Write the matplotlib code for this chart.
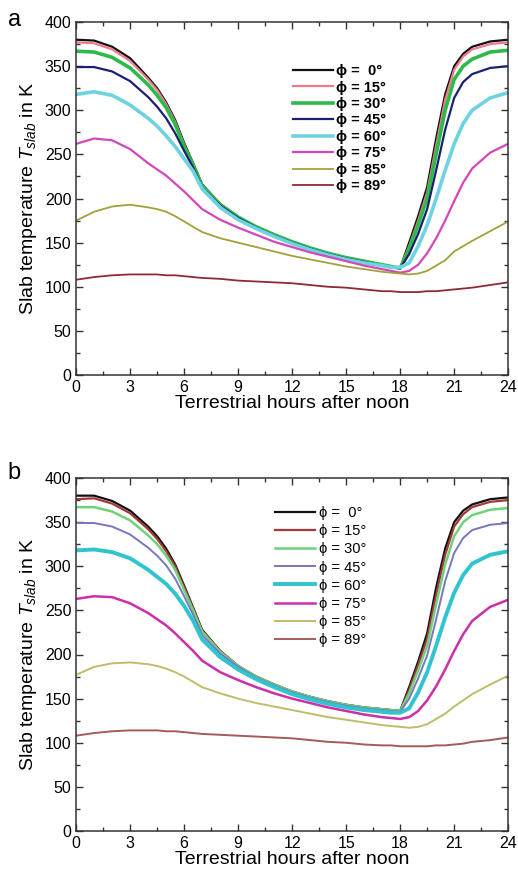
import matplotlib

matplotlib.use("Agg")

from matplotlib import pyplot as plt
from matplotlib.ticker import MultipleLocator

plt.rcParams["font.family"] = ["Liberation Sans", "DejaVu Sans"]
plt.rcParams["mathtext.fontset"] = "custom"
plt.rcParams["mathtext.it"] = "Liberation Sans:italic"
plt.rcParams["mathtext.rm"] = "Liberation Sans"

# hours after noon, shared by every curve
hours = [0, 1, 2, 3, 4, 4.5, 5, 5.5, 6, 6.5, 7, 8, 9, 10, 11, 12, 13, 14, 15, 16, 17,
         17.5, 18, 18.5, 19, 19.5, 20, 20.5, 21, 21.5, 22, 23, 24]

labels = ["ϕ =  0°", "ϕ = 15°", "ϕ = 30°", "ϕ = 45°", "ϕ = 60°", "ϕ = 75°", "ϕ = 85°", "ϕ = 89°"]

# panel a
a_phi0 = [380, 379, 372, 359, 337, 325, 309, 289, 263, 240, 216, 194, 179, 168, 159, 151, 144, 138, 133, 129, 125,
          123, 121, 150, 180, 213, 268, 318, 350, 364, 372, 378, 380]
a_phi15 = [377, 376, 369, 356, 335, 323, 307, 287, 261, 239, 215, 194, 179, 168, 159, 151, 144, 138, 133, 129, 125,
           123, 121, 146, 175, 207, 260, 312, 346, 361, 369, 375, 377]
a_phi30 = [367, 366, 360, 348, 329, 317, 303, 284, 259, 238, 214, 193, 179, 168, 159, 151, 144, 138, 133, 129, 125,
           123, 121, 143, 170, 200, 250, 300, 335, 350, 358, 366, 368]
a_phi45 = [349, 349, 344, 333, 315, 304, 291, 274, 254, 235, 212, 192, 178, 167, 158, 150, 143, 137, 132, 128, 124,
           122, 121, 137, 160, 188, 232, 278, 314, 332, 341, 348, 350]
a_phi60 = [318, 321, 317, 306, 291, 282, 271, 259, 245, 231, 211, 190, 176, 166, 157, 149, 142, 136, 131, 127, 124,
           122, 122, 127, 146, 170, 200, 232, 262, 285, 300, 314, 320]
a_phi75 = [262, 268, 266, 256, 240, 233, 226, 217, 208, 198, 188, 176, 167, 159, 151, 145, 139, 134, 129, 124, 120,
           118, 116, 118, 125, 138, 155, 175, 197, 218, 234, 252, 262]
a_phi85 = [175, 185, 191, 193, 190, 188, 185, 180, 174, 168, 162, 155, 150, 145, 140, 135, 131, 127, 123, 120, 117,
           116, 115, 114, 115, 118, 124, 130, 140, 146, 152, 163, 174]
a_phi89 = [108, 111, 113, 114, 114, 114, 113, 113, 112, 111, 110, 109, 107, 106, 105, 104, 102, 100, 99, 97, 95,
           95, 94, 94, 94, 95, 95, 96, 97, 98, 99, 102, 105]

# panel b
b_phi0 = [380, 380, 374, 363, 345, 334, 320, 302, 278, 253, 228, 204, 187, 175, 166, 158, 152, 147, 143, 140, 138,
          137, 136, 163, 192, 224, 276, 320, 350, 363, 370, 376, 378]
b_phi15 = [376, 377, 371, 360, 342, 331, 317, 300, 276, 252, 227, 204, 187, 175, 166, 158, 152, 147, 143, 140, 138,
           137, 136, 160, 188, 218, 268, 313, 345, 359, 367, 373, 375]
b_phi30 = [367, 367, 362, 352, 335, 325, 312, 296, 273, 250, 226, 203, 187, 175, 166, 158, 152, 147, 143, 140, 138,
           137, 136, 156, 182, 210, 257, 302, 334, 350, 358, 364, 366]
b_phi45 = [349, 349, 345, 336, 321, 312, 301, 286, 266, 245, 222, 201, 186, 174, 165, 157, 151, 146, 142, 139, 137,
           136, 135, 150, 173, 199, 240, 283, 315, 332, 341, 347, 349]
b_phi60 = [318, 319, 316, 309, 296, 288, 280, 269, 255, 238, 217, 197, 183, 172, 163, 155, 149, 144, 140, 137, 135,
           134, 134, 139, 157, 180, 210, 242, 270, 290, 303, 313, 317]
b_phi75 = [263, 266, 265, 258, 247, 240, 233, 224, 214, 204, 193, 180, 171, 163, 156, 150, 145, 140, 136, 132, 129,
           128, 127, 129, 136, 148, 164, 183, 204, 223, 238, 254, 262]
b_phi85 = [177, 186, 190, 191, 189, 187, 184, 180, 175, 169, 163, 156, 150, 145, 141, 137, 133, 129, 126, 123, 120,
           119, 118, 117, 118, 121, 127, 133, 141, 148, 155, 166, 176]
b_phi89 = [108, 111, 113, 114, 114, 114, 113, 113, 112, 111, 110, 109, 108, 107, 106, 105, 103, 101, 100, 98, 97,
           97, 96, 96, 96, 96, 97, 97, 98, 99, 101, 103, 106]

a_series = [a_phi0, a_phi15, a_phi30, a_phi45, a_phi60, a_phi75, a_phi85, a_phi89]
b_series = [b_phi0, b_phi15, b_phi30, b_phi45, b_phi60, b_phi75, b_phi85, b_phi89]

a_colors = ["#111111", "#ee7a8a", "#2cbb4a", "#1c1f70", "#6ed3e0", "#d447b8", "#a3a03a", "#8e2a35"]
b_colors = ["#111111", "#a33a3a", "#6fd27a", "#7777c0", "#2fc4cf", "#cc2fa8", "#bdbd6a", "#a85a5a"]
a_widths = [1.6, 1.6, 2.6, 1.6, 2.6, 1.6, 1.3, 1.3]
b_widths = [1.6, 1.6, 1.8, 1.4, 2.8, 1.8, 1.4, 1.4]


def style_axes(ax):
    ax.set_xlim(0, 24)
    ax.set_ylim(0, 400)
    ax.xaxis.set_major_locator(MultipleLocator(3))
    ax.xaxis.set_minor_locator(MultipleLocator(1.5))
    ax.yaxis.set_major_locator(MultipleLocator(50))
    ax.yaxis.set_minor_locator(MultipleLocator(25))
    ax.tick_params(which="both", direction="in", top=True, right=True, labelsize=11.5, color="#333333")
    ax.tick_params(which="major", length=5, width=1)
    ax.tick_params(which="minor", length=3, width=1)
    for spine in ax.spines.values():
        spine.set_linewidth(1.1)
        spine.set_color("#333333")
    ax.set_xlabel("Terrestrial hours after noon", fontsize=14, labelpad=0)
    ax.set_ylabel("Slab temperature $T_{slab}$ in K", fontsize=14, labelpad=4)


fig = plt.figure(figsize=(5.18, 8.75), dpi=100)
ax_a = fig.add_axes([0.147, 0.5714, 0.834, 0.4034])
ax_b = fig.add_axes([0.147, 0.0503, 0.834, 0.4034])

for values, color, lw, label in zip(a_series, a_colors, a_widths, labels):
    ax_a.plot(hours, values, color=color, lw=lw, label=label)
for values, color, lw, label in zip(b_series, b_colors, b_widths, labels):
    ax_b.plot(hours, values, color=color, lw=lw, label=label)

style_axes(ax_a)
style_axes(ax_b)

leg_a = ax_a.legend(loc="upper left", bbox_to_anchor=(0.503, 0.881), frameon=False,
                    handlelength=2.7, handletextpad=0.25, labelspacing=0.17, borderpad=0, borderaxespad=0,
                    prop={"weight": "bold", "size": 10.5})
leg_b = ax_b.legend(loc="upper left", bbox_to_anchor=(0.461, 0.92), frameon=False, fontsize=10.5,
                    handlelength=2.7, handletextpad=0.3, labelspacing=0.28, borderpad=0, borderaxespad=0)

fig.text(0.015, 0.977, "a", fontsize=17, va="center")
fig.text(0.015, 0.459, "b", fontsize=17, va="center")

fig.savefig("out.png", dpi=100)
